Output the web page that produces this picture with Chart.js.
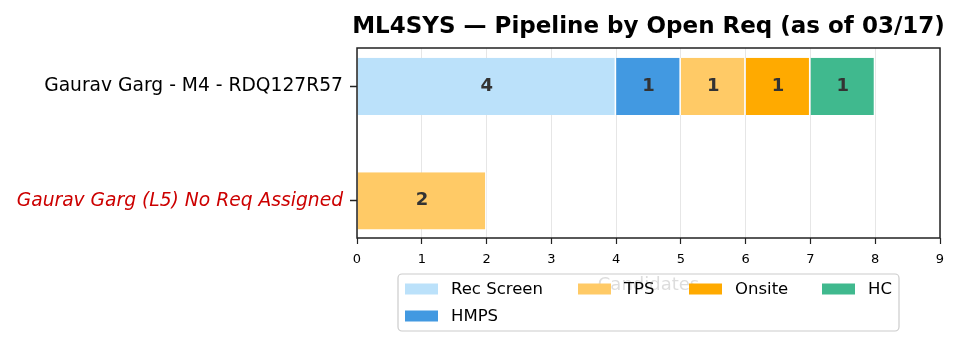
<!DOCTYPE html>
<html>
<head>
<meta charset="utf-8">
<script src="https://cdn.jsdelivr.net/npm/chart.js@4.4.1/dist/chart.umd.min.js"></script>
<style>
  html, body { margin: 0; padding: 0; background: #fff; }
  #chart { display: block; }
</style>
</head>
<body>
<canvas id="chart" width="960" height="347"></canvas>
<script>
// Données du graphique
const chartTitle = 'ML4SYS \u2014 Pipeline by Open Req (as of 03/17)';
const categories = ['Gaurav Garg - M4 - RDQ127R57', 'Gaurav Garg (L5) No Req Assigned'];
const stages = ['Rec Screen', 'HMPS', 'TPS', 'Onsite', 'HC'];
const recScreen = [4, 0];
const hmps = [1, 0];
const tps = [1, 2];
const onsite = [1, 0];
const hc = [1, 0];
const xTicks = [0, 1, 2, 3, 4, 5, 6, 7, 8, 9];
const xLabel = 'Candidates';

const stageColors = ['#BBE1FA', '#4299E1', '#FFCA66', '#FFAA00', '#40B98E'];
const FONT = '"DejaVu Sans", sans-serif';
Chart.defaults.font.family = FONT;

function buildDatasets() {
    const series = [recScreen, hmps, tps, onsite, hc];
    return series.map(function(values, s) {
        return {
            label: stages[s],
            data: values.map(function(v, i) { return { x: v > 0 ? v : null, y: i }; }),
            backgroundColor: stageColors[s],
            borderColor: '#ffffff',
            borderWidth: { right: 1.5, left: 0, top: 0, bottom: 0 },
            borderSkipped: false,
            categoryPercentage: 1,
            barPercentage: 0.5
        };
    });
}

// Étiquettes de valeur au centre de chaque segment + cadre
const valueLabels = {
    id: 'valueLabels',
    afterDatasetsDraw(chart) {
        const ctx = chart.ctx;
        ctx.save();
        ctx.font = 'bold 18px ' + FONT;
        ctx.fillStyle = '#333333';
        ctx.textAlign = 'center';
        ctx.textBaseline = 'middle';
        chart.data.datasets.forEach(function(ds, d) {
            chart.getDatasetMeta(d).data.forEach(function(el, i) {
                const v = ds.data[i].x;
                if (!v) return;
                ctx.fillText(String(v), (el.x + el.base) / 2, el.y);
            });
        });
        const a = chart.chartArea;
        ctx.strokeStyle = '#222222';
        ctx.lineWidth = 1.5;
        ctx.strokeRect(a.left, a.top, a.right - a.left, a.bottom - a.top);
        ctx.restore();
    }
};

// Titre centré sur la zone de tracé
const plotTitle = {
    id: 'plotTitle',
    afterDraw(chart) {
        const ctx = chart.ctx;
        const a = chart.chartArea;
        ctx.save();
        ctx.font = 'bold 23px ' + FONT;
        ctx.fillStyle = '#000';
        ctx.textAlign = 'center';
        ctx.textBaseline = 'alphabetic';
        ctx.fillText(chartTitle, (a.left + a.right) / 2, 33);
        ctx.restore();
    }
};

// Légende façon matplotlib (ncol = 4, remplissage par colonne)
const boxLegend = {
    id: 'boxLegend',
    afterDraw(chart) {
        const ctx = chart.ctx;
        const a = chart.chartArea;
        const ncol = 4;
        const boxW = 501, boxH = 57;
        const left = (a.left + a.right) / 2 - boxW / 2;
        const top = 274;
        const colX = [7, 180, 291, 424];
        const rowY = [15, 42];
        ctx.save();
        ctx.beginPath();
        ctx.roundRect(left, top, boxW, boxH, 4);
        ctx.fillStyle = 'rgba(255,255,255,0.8)';
        ctx.fill();
        ctx.strokeStyle = '#cccccc';
        ctx.lineWidth = 1.2;
        ctx.stroke();

        const n = stages.length;
        const nrows = Math.ceil(n / ncol);
        const full = n % ncol === 0 ? ncol : n % ncol;
        let idx = 0;
        ctx.font = '16.5px ' + FONT;
        ctx.textBaseline = 'middle';
        for (let c = 0; c < ncol && idx < n; c++) {
            const rows = c < full ? nrows : nrows - 1;
            for (let r = 0; r < rows && idx < n; r++, idx++) {
                const x = left + colX[c];
                const y = top + rowY[r];
                ctx.fillStyle = stageColors[idx];
                ctx.fillRect(x, y - 5.5, 33, 11);
                ctx.fillStyle = '#000';
                ctx.fillText(stages[idx], x + 46, y + 1);
            }
        }
        ctx.restore();
    }
};

new Chart(document.getElementById('chart'), {
    type: 'bar',
    data: { datasets: buildDatasets() },
    options: {
        indexAxis: 'y',
        responsive: false,
        animation: false,
        layout: { padding: { top: 48, right: 20, left: 0, bottom: 0 } },
        plugins: {
            legend: { display: false },
            title: { display: false },
            tooltip: { enabled: false }
        },
        scales: {
            x: {
                type: 'linear',
                stacked: true,
                min: xTicks[0],
                max: xTicks[xTicks.length - 1],
                afterBuildTicks: function(scale) {
                    scale.ticks = xTicks.map(function(v) { return { value: v }; });
                },
                afterFit: function(scale) { scale.height = 109; },
                border: { display: false },
                grid: {
                    color: '#e6e6e6',
                    lineWidth: 1,
                    tickColor: '#222222',
                    tickLength: 6,
                    tickWidth: 1.2
                },
                ticks: {
                    color: '#000',
                    font: { size: 13 },
                    padding: 8,
                    maxRotation: 0
                },
                title: {
                    display: true,
                    text: xLabel,
                    color: '#555555',
                    font: { size: 18 },
                    padding: { top: 0, bottom: 51 }
                }
            },
            y: {
                type: 'linear',
                stacked: true,
                reverse: true,
                offset: false,
                min: -0.335,
                max: 1.325,
                afterBuildTicks: function(scale) {
                    scale.ticks = categories.map(function(c, i) { return { value: i }; });
                },
                afterFit: function(scale) { scale.width = 357; },
                border: { display: false },
                grid: {
                    offset: false,
                    drawOnChartArea: false,
                    tickColor: '#222222',
                    tickLength: 7,
                    tickWidth: 1.5
                },
                ticks: {
                    padding: 7,
                    callback: function(value) { return categories[value]; },
                    color: function(ctx) { return ctx.index === 1 ? '#cc0000' : '#000000'; },
                    font: function(ctx) {
                        return ctx.index === 1 ? { size: 18.7, style: 'italic' } : { size: 18.7 };
                    }
                }
            }
        }
    },
    plugins: [valueLabels, plotTitle, boxLegend]
});
</script>
</body>
</html>
